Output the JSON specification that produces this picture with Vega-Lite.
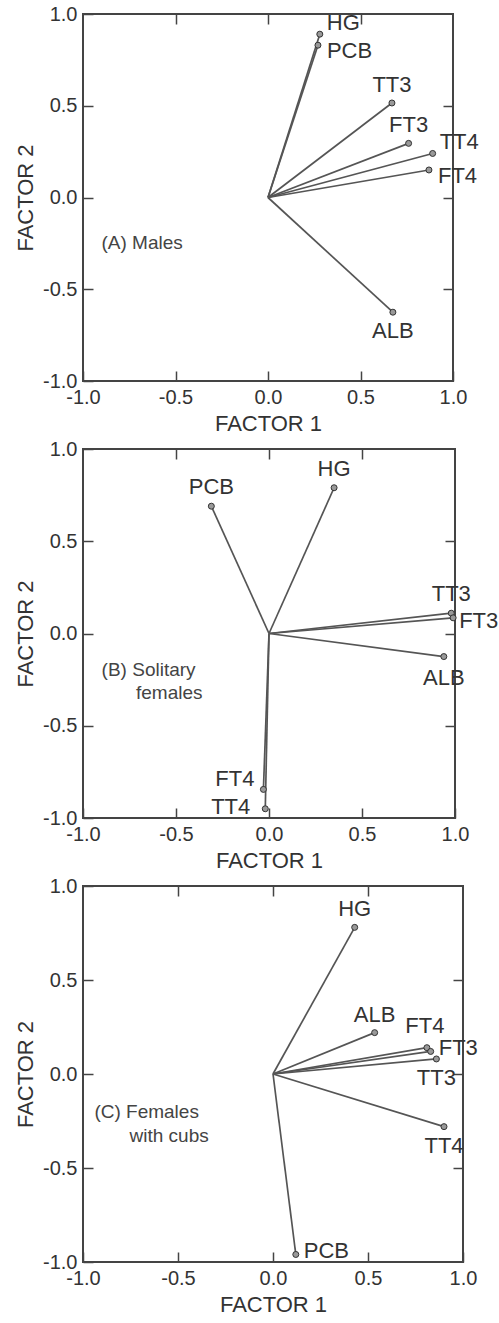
{
  "$schema": "https://vega.github.io/schema/vega-lite/v6.json",
  "background": "white",
  "padding": {"left": 13, "top": 3, "right": 0, "bottom": 0},
  "spacing": 3,
  "datasets": {
    "loadings": [
      {"panel": "A", "var": "HG", "f1": 0.28, "f2": 0.89},
      {"panel": "A", "var": "PCB", "f1": 0.27, "f2": 0.83},
      {"panel": "A", "var": "TT3", "f1": 0.67, "f2": 0.515},
      {"panel": "A", "var": "FT3", "f1": 0.76, "f2": 0.295},
      {"panel": "A", "var": "TT4", "f1": 0.89, "f2": 0.24},
      {"panel": "A", "var": "FT4", "f1": 0.87, "f2": 0.15},
      {"panel": "A", "var": "ALB", "f1": 0.675, "f2": -0.625},
      {"panel": "B", "var": "PCB", "f1": -0.31, "f2": 0.69},
      {"panel": "B", "var": "HG", "f1": 0.35, "f2": 0.79},
      {"panel": "B", "var": "TT3", "f1": 0.98, "f2": 0.11},
      {"panel": "B", "var": "FT3", "f1": 0.99, "f2": 0.085},
      {"panel": "B", "var": "ALB", "f1": 0.94, "f2": -0.125},
      {"panel": "B", "var": "FT4", "f1": -0.03, "f2": -0.845},
      {"panel": "B", "var": "TT4", "f1": -0.02, "f2": -0.95},
      {"panel": "C", "var": "HG", "f1": 0.43, "f2": 0.78},
      {"panel": "C", "var": "ALB", "f1": 0.535, "f2": 0.22},
      {"panel": "C", "var": "FT4", "f1": 0.81, "f2": 0.14},
      {"panel": "C", "var": "FT3", "f1": 0.83, "f2": 0.12},
      {"panel": "C", "var": "TT3", "f1": 0.86, "f2": 0.08},
      {"panel": "C", "var": "TT4", "f1": 0.9, "f2": -0.28},
      {"panel": "C", "var": "PCB", "f1": 0.12, "f2": -0.96}
    ],
    "notes": [
      {"panel": "A", "text": "(A) Males", "f1": -0.9, "f2": -0.25},
      {"panel": "B", "text": "(B) Solitary", "f1": -0.9, "f2": -0.2},
      {"panel": "B", "text": "females", "f1": -0.715, "f2": -0.32},
      {"panel": "C", "text": "(C) Females", "f1": -0.94, "f2": -0.2},
      {"panel": "C", "text": "with cubs", "f1": -0.755, "f2": -0.33}
    ]
  },
  "config": {
    "view": {"stroke": "#444", "strokeWidth": 2},
    "axis": {
      "labelFont": "Liberation Sans", "labelFontSize": 20, "labelColor": "#333",
      "titleFont": "Liberation Sans", "titleFontSize": 22, "titleFontWeight": "normal", "titleColor": "#333",
      "domain": false, "grid": false,
      "labelPadding": 6, "labelFlush": false, "labelOverlap": false, "labelBound": false
    },
    "text": {"font": "Liberation Sans", "fontSize": 22, "color": "#333", "baseline": "middle"},
    "rule": {"color": "#555", "strokeWidth": 1.7}
  },
  "vconcat": [
    {
      "width": 370, "height": 367,
      "resolve": {"axis": {"x": "independent", "y": "independent"}},
      "encoding": {
        "x": {"field": "f1", "type": "quantitative", "scale": {"domain": [-1, 1], "nice": false, "zero": false}, "axis": null},
        "y": {"field": "f2", "type": "quantitative", "scale": {"domain": [-1, 1], "nice": false, "zero": false}, "axis": null}
      },
      "layer": [
        {"data": {"name": "loadings"}, "transform": [{"filter": "datum.panel == 'A'"}],
          "mark": {"type": "rule"},
          "encoding": {
            "x": {"field": "f1", "type": "quantitative", "scale": {"domain": [-1, 1], "nice": false, "zero": false},
              "axis": {"orient": "bottom", "title": "FACTOR 1", "values": [-1, -0.5, 0, 0.5, 1], "labelExpr": "replace(format(datum.value, '.1f'), '−', '-')", "titlePadding": 6, "ticks": true, "tickSize": 10, "tickColor": "#444", "tickWidth": 1.5, "offset": -10}},
            "y": {"field": "f2", "type": "quantitative", "scale": {"domain": [-1, 1], "nice": false, "zero": false},
              "axis": {"orient": "left", "title": "FACTOR 2", "values": [-1, -0.5, 0, 0.5, 1], "labelExpr": "replace(format(datum.value, '.1f'), '−', '-')", "titlePadding": 5, "ticks": true, "tickSize": 10, "tickColor": "#444", "tickWidth": 1.5, "offset": -10}},
            "x2": {"datum": 0}, "y2": {"datum": 0}
          }},
        {"data": {"name": "loadings"}, "transform": [{"filter": "datum.panel == 'A'"}],
          "mark": {"type": "circle", "size": 36, "fill": "#999", "stroke": "#333", "strokeWidth": 1, "opacity": 1},
          "encoding": {
            "x": {"field": "f1", "type": "quantitative", "scale": {"domain": [-1, 1], "nice": false, "zero": false},
              "axis": {"orient": "top", "title": null, "labels": false, "values": [-0.5, 0, 0.5], "ticks": true, "tickSize": 10, "tickColor": "#444", "tickWidth": 1.5, "offset": -10}},
            "y": {"field": "f2", "type": "quantitative", "scale": {"domain": [-1, 1], "nice": false, "zero": false},
              "axis": {"orient": "right", "title": null, "labels": false, "values": [-0.5, 0, 0.5], "ticks": true, "tickSize": 10, "tickColor": "#444", "tickWidth": 1.5, "offset": -10}}
          }},
        {
          "data": {"name": "loadings"},
          "transform": [{"filter": "datum.panel == 'A' && indexof(['TT3', 'FT3'], datum.var) >= 0"}],
          "mark": {"type": "text", "align": "center", "dy": -18},
          "encoding": {"text": {"field": "var"}}
        },
        {
          "data": {"name": "loadings"},
          "transform": [{"filter": "datum.panel == 'A' && indexof(['HG', 'TT4'], datum.var) >= 0"}],
          "mark": {"type": "text", "align": "left", "dx": 7, "dy": -11},
          "encoding": {"text": {"field": "var"}}
        },
        {
          "data": {"name": "loadings"},
          "transform": [{"filter": "datum.panel == 'A' && indexof(['PCB', 'FT4'], datum.var) >= 0"}],
          "mark": {"type": "text", "align": "left", "dx": 9, "dy": 6},
          "encoding": {"text": {"field": "var"}}
        },
        {
          "data": {"name": "loadings"},
          "transform": [{"filter": "datum.panel == 'A' && datum.var == 'ALB'"}],
          "mark": {"type": "text", "align": "center", "dy": 19},
          "encoding": {"text": {"field": "var"}}
        },
        {
          "data": {"name": "notes"},
          "transform": [{"filter": "datum.panel == 'A'"}],
          "mark": {"type": "text", "align": "left", "fontSize": 19, "color": "#444"},
          "encoding": {"text": {"field": "text"}}
        }
      ]
    },
    {
      "width": 372, "height": 369,
      "resolve": {"axis": {"x": "independent", "y": "independent"}},
      "encoding": {
        "x": {"field": "f1", "type": "quantitative", "scale": {"domain": [-1, 1], "nice": false, "zero": false}, "axis": null},
        "y": {"field": "f2", "type": "quantitative", "scale": {"domain": [-1, 1], "nice": false, "zero": false}, "axis": null}
      },
      "layer": [
        {"data": {"name": "loadings"}, "transform": [{"filter": "datum.panel == 'B'"}],
          "mark": {"type": "rule"},
          "encoding": {
            "x": {"field": "f1", "type": "quantitative", "scale": {"domain": [-1, 1], "nice": false, "zero": false},
              "axis": {"orient": "bottom", "title": "FACTOR 1", "values": [-1, -0.5, 0, 0.5, 1], "labelExpr": "replace(format(datum.value, '.1f'), '−', '-')", "titlePadding": 6, "ticks": true, "tickSize": 10, "tickColor": "#444", "tickWidth": 1.5, "offset": -10}},
            "y": {"field": "f2", "type": "quantitative", "scale": {"domain": [-1, 1], "nice": false, "zero": false},
              "axis": {"orient": "left", "title": "FACTOR 2", "values": [-1, -0.5, 0, 0.5, 1], "labelExpr": "replace(format(datum.value, '.1f'), '−', '-')", "titlePadding": 5, "ticks": true, "tickSize": 10, "tickColor": "#444", "tickWidth": 1.5, "offset": -10}},
            "x2": {"datum": 0}, "y2": {"datum": 0}
          }},
        {"data": {"name": "loadings"}, "transform": [{"filter": "datum.panel == 'B'"}],
          "mark": {"type": "circle", "size": 36, "fill": "#999", "stroke": "#333", "strokeWidth": 1, "opacity": 1},
          "encoding": {
            "x": {"field": "f1", "type": "quantitative", "scale": {"domain": [-1, 1], "nice": false, "zero": false},
              "axis": {"orient": "top", "title": null, "labels": false, "values": [-0.5, 0, 0.5], "ticks": true, "tickSize": 10, "tickColor": "#444", "tickWidth": 1.5, "offset": -10}},
            "y": {"field": "f2", "type": "quantitative", "scale": {"domain": [-1, 1], "nice": false, "zero": false},
              "axis": {"orient": "right", "title": null, "labels": false, "values": [-0.5, 0, 0.5], "ticks": true, "tickSize": 10, "tickColor": "#444", "tickWidth": 1.5, "offset": -10}}
          }},
        {
          "data": {"name": "loadings"},
          "transform": [{"filter": "datum.panel == 'B' && indexof(['HG', 'PCB', 'TT3'], datum.var) >= 0"}],
          "mark": {"type": "text", "align": "center", "dy": -19},
          "encoding": {"text": {"field": "var"}}
        },
        {
          "data": {"name": "loadings"},
          "transform": [{"filter": "datum.panel == 'B' && datum.var == 'FT3'"}],
          "mark": {"type": "text", "align": "left", "dx": 6, "dy": 3},
          "encoding": {"text": {"field": "var"}}
        },
        {
          "data": {"name": "loadings"},
          "transform": [{"filter": "datum.panel == 'B' && datum.var == 'ALB'"}],
          "mark": {"type": "text", "align": "center", "dy": 21},
          "encoding": {"text": {"field": "var"}}
        },
        {
          "data": {"name": "loadings"},
          "transform": [{"filter": "datum.panel == 'B' && datum.var == 'FT4'"}],
          "mark": {"type": "text", "align": "right", "dx": -9, "dy": -10},
          "encoding": {"text": {"field": "var"}}
        },
        {
          "data": {"name": "loadings"},
          "transform": [{"filter": "datum.panel == 'B' && datum.var == 'TT4'"}],
          "mark": {"type": "text", "align": "right", "dx": -15, "dy": -2},
          "encoding": {"text": {"field": "var"}}
        },
        {
          "data": {"name": "notes"},
          "transform": [{"filter": "datum.panel == 'B'"}],
          "mark": {"type": "text", "align": "left", "fontSize": 19, "color": "#444"},
          "encoding": {"text": {"field": "text"}}
        }
      ]
    },
    {
      "width": 380, "height": 376,
      "resolve": {"axis": {"x": "independent", "y": "independent"}},
      "encoding": {
        "x": {"field": "f1", "type": "quantitative", "scale": {"domain": [-1, 1], "nice": false, "zero": false}, "axis": null},
        "y": {"field": "f2", "type": "quantitative", "scale": {"domain": [-1, 1], "nice": false, "zero": false}, "axis": null}
      },
      "layer": [
        {"data": {"name": "loadings"}, "transform": [{"filter": "datum.panel == 'C'"}],
          "mark": {"type": "rule"},
          "encoding": {
            "x": {"field": "f1", "type": "quantitative", "scale": {"domain": [-1, 1], "nice": false, "zero": false},
              "axis": {"orient": "bottom", "title": "FACTOR 1", "values": [-1, -0.5, 0, 0.5, 1], "labelExpr": "replace(format(datum.value, '.1f'), '−', '-')", "titlePadding": 6, "ticks": true, "tickSize": 10, "tickColor": "#444", "tickWidth": 1.5, "offset": -10}},
            "y": {"field": "f2", "type": "quantitative", "scale": {"domain": [-1, 1], "nice": false, "zero": false},
              "axis": {"orient": "left", "title": "FACTOR 2", "values": [-1, -0.5, 0, 0.5, 1], "labelExpr": "replace(format(datum.value, '.1f'), '−', '-')", "titlePadding": 5, "ticks": true, "tickSize": 10, "tickColor": "#444", "tickWidth": 1.5, "offset": -10}},
            "x2": {"datum": 0}, "y2": {"datum": 0}
          }},
        {"data": {"name": "loadings"}, "transform": [{"filter": "datum.panel == 'C'"}],
          "mark": {"type": "circle", "size": 36, "fill": "#999", "stroke": "#333", "strokeWidth": 1, "opacity": 1},
          "encoding": {
            "x": {"field": "f1", "type": "quantitative", "scale": {"domain": [-1, 1], "nice": false, "zero": false},
              "axis": {"orient": "top", "title": null, "labels": false, "values": [-0.5, 0, 0.5], "ticks": true, "tickSize": 10, "tickColor": "#444", "tickWidth": 1.5, "offset": -10}},
            "y": {"field": "f2", "type": "quantitative", "scale": {"domain": [-1, 1], "nice": false, "zero": false},
              "axis": {"orient": "right", "title": null, "labels": false, "values": [-0.5, 0, 0.5], "ticks": true, "tickSize": 10, "tickColor": "#444", "tickWidth": 1.5, "offset": -10}}
          }},
        {
          "data": {"name": "loadings"},
          "transform": [{"filter": "datum.panel == 'C' && indexof(['HG', 'ALB'], datum.var) >= 0"}],
          "mark": {"type": "text", "align": "center", "dy": -18},
          "encoding": {"text": {"field": "var"}}
        },
        {
          "data": {"name": "loadings"},
          "transform": [{"filter": "datum.panel == 'C' && datum.var == 'FT4'"}],
          "mark": {"type": "text", "align": "center", "dx": -2, "dy": -22},
          "encoding": {"text": {"field": "var"}}
        },
        {
          "data": {"name": "loadings"},
          "transform": [{"filter": "datum.panel == 'C' && indexof(['FT3', 'PCB'], datum.var) >= 0"}],
          "mark": {"type": "text", "align": "left", "dx": 8, "dy": -3},
          "encoding": {"text": {"field": "var"}}
        },
        {
          "data": {"name": "loadings"},
          "transform": [{"filter": "datum.panel == 'C' && indexof(['TT3', 'TT4'], datum.var) >= 0"}],
          "mark": {"type": "text", "align": "center", "dy": 19},
          "encoding": {"text": {"field": "var"}}
        },
        {
          "data": {"name": "notes"},
          "transform": [{"filter": "datum.panel == 'C'"}],
          "mark": {"type": "text", "align": "left", "fontSize": 19, "color": "#444"},
          "encoding": {"text": {"field": "text"}}
        }
      ]
    }
  ]
}
